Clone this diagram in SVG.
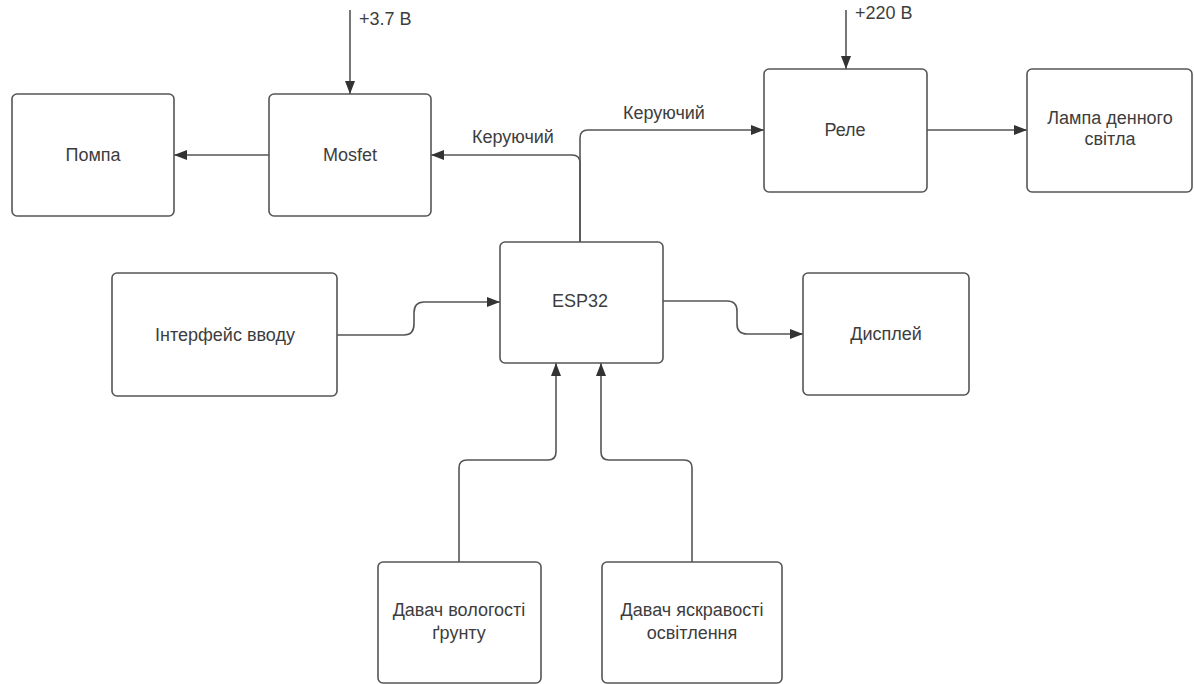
<svg xmlns="http://www.w3.org/2000/svg" width="1194" height="684" viewBox="0 0 1194 684">
<style>
.box{fill:#fff;stroke:#555;stroke-width:1.6}
.t{font-family:"Liberation Sans",Arial,sans-serif;font-size:18px;fill:#3d3d3d;text-anchor:middle;dominant-baseline:central}
.l{font-family:"Liberation Sans",Arial,sans-serif;font-size:18px;fill:#3d3d3d}
.c{fill:none;stroke:#555;stroke-width:1.6;marker-end:url(#ah)}
</style>
<defs>
<marker id="ah" markerUnits="userSpaceOnUse" markerWidth="14" markerHeight="10" refX="13" refY="5" orient="auto">
<path d="M0,0 L13,5 L0,10 Z" fill="#333"/>
</marker>
</defs>
<rect width="1194" height="684" fill="#fff"/>
<g id="connectors">
<path class="c" d="M350,10 V94"/>
<path class="c" d="M846,10 V69"/>
<path class="c" d="M269,155 H174"/>
<path class="c" d="M580,242 V163 Q580,155 572,155 H431"/>
<path class="c" d="M580,242 V138 Q580,130 588,130 H764"/>
<path class="c" d="M927,130 H1027"/>
<path class="c" d="M337,335 H404 Q414,335 414,324 V313 Q414,302 424,302 H500"/>
<path class="c" d="M663,301 H727 Q737,301 737,311 V324 Q737,334 747,334 H803"/>
<path class="c" d="M459,562 V468 Q459,460 467,460 H548 Q556,460 556,452 V363"/>
<path class="c" d="M692,562 V468 Q692,460 684,460 H609 Q601,460 601,452 V363"/>
<text class="l" x="359" y="25">+3.7 В</text>
<text class="l" x="855" y="19">+220 В</text>
<text class="l" x="472" y="143">Керуючий</text>
<text class="l" x="623" y="119">Керуючий</text>
</g>
<g id="pompa"><rect class="box" x="12" y="94" width="162" height="122" rx="5"/><text class="t" x="93" y="155">Помпа</text></g>
<g id="mosfet"><rect class="box" x="269" y="94" width="162" height="122" rx="5"/><text class="t" x="350" y="155">Mosfet</text></g>
<g id="rele"><rect class="box" x="764" y="69" width="163" height="123" rx="5"/><text class="t" x="845" y="130">Реле</text></g>
<g id="lampa"><rect class="box" x="1027" y="69" width="165" height="123" rx="5"/><text class="t" x="1110" y="118">Лампа денного</text><text class="t" x="1110" y="139">світла</text></g>
<g id="interface"><rect class="box" x="112" y="273" width="225" height="123" rx="5"/><text class="t" x="225" y="335">Інтерфейс вводу</text></g>
<g id="esp32"><rect class="box" x="500" y="242" width="163" height="121" rx="5"/><text class="t" x="580" y="301">ESP32</text></g>
<g id="display"><rect class="box" x="803" y="273" width="166" height="122" rx="5"/><text class="t" x="886" y="334">Дисплей</text></g>
<g id="sensor-moisture"><rect class="box" x="378" y="562" width="163" height="121" rx="5"/><text class="t" x="459" y="610">Давач вологості</text><text class="t" x="459" y="633">ґрунту</text></g>
<g id="sensor-light"><rect class="box" x="602" y="562" width="180" height="121" rx="5"/><text class="t" x="692" y="610">Давач яскравості</text><text class="t" x="692" y="633">освітлення</text></g>
</svg>
